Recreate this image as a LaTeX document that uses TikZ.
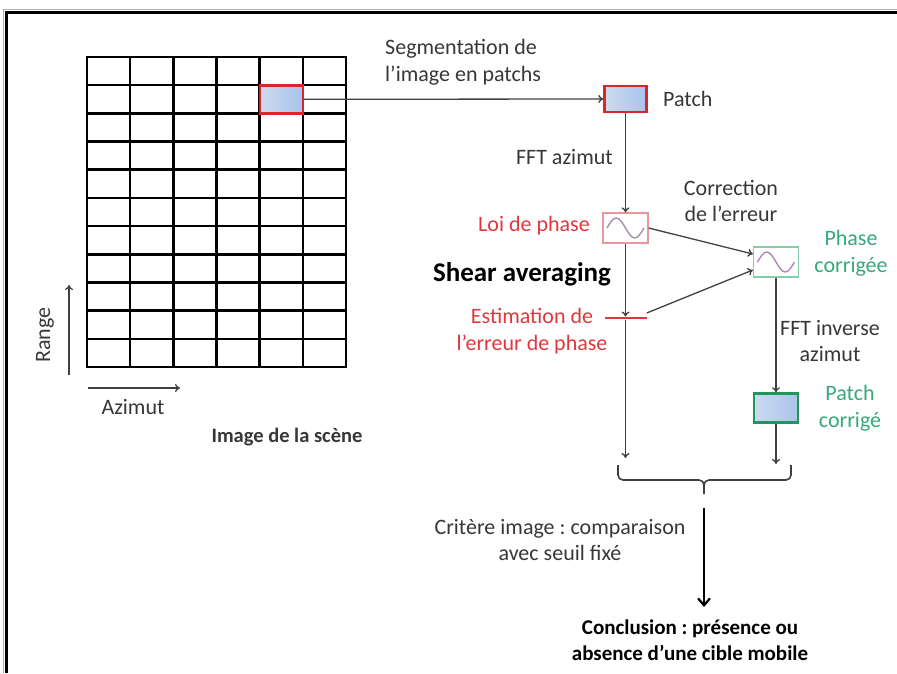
\documentclass[tikz,border=0pt]{standalone}
\usepackage{fontspec}
\setmainfont{Carlito}
\usepackage{xcolor}
\usepackage{tikz}
\usetikzlibrary{arrows.meta, calc, positioning}
\definecolor{lineGray}{RGB}{64,64,64}
\definecolor{textGray}{RGB}{55,55,55}
\definecolor{errRed}{RGB}{222,56,62}
\definecolor{boxRed}{RGB}{214,40,40}
\definecolor{pinkEdge}{RGB}{232,150,160}
\definecolor{okGreen}{RGB}{52,170,122}
\definecolor{mintEdge}{RGB}{130,205,170}
\definecolor{boxGreen}{RGB}{34,150,90}
\definecolor{waveCol}{RGB}{170,140,175}
\definecolor{patchL}{RGB}{205,218,240}
\definecolor{patchR}{RGB}{170,195,235}
\frenchspacing

\begin{document}
\begin{tikzpicture}[x=1pt, y=-1pt, every node/.style={inner sep=0pt, text=textGray},
	lbl/.style={font=\fontsize{22}{26.5}\selectfont, align=center},
	conn/.style={draw=lineGray, line width=1.3pt, -{To[length=5pt, width=8pt]}},
	patchbox/.style={draw=#1, line width=2.4pt, left color=patchL, right color=patchR, minimum width=42pt, minimum height=26pt},
	wavebox/.style={draw=#1, line width=1.3pt, fill=white, minimum width=45pt, minimum height=30pt,
		path picture={\draw[waveCol, line width=1.4pt] ([xshift=4pt]path picture bounding box.west) sin ++(9.25,-10) cos ++(9.25,10) sin ++(9.25,10) cos ++(9.25,-10);}}]
	\useasboundingbox (0,0) rectangle (897,673);
	\draw[gray!60, line width=0.8pt] (3,673) |- (897,9);
	\draw[line width=3pt] (6,673) |- (897,12);

	% scene grid
	\foreach \i in {0,...,6}
		\draw[line width=2.6pt, line cap=rect] ({87+43.17*\i},57) -- ({87+43.17*\i},367);
	\foreach \j in {0,...,11}
		\draw[line width=2.6pt, line cap=rect] (87,{57+28.18*\j}) -- (346,{57+28.18*\j});
	\node[patchbox=boxRed, minimum width=43pt, minimum height=28pt] (cell) at (281.3,99.3) {};

	\draw[draw=lineGray, line width=1.3pt, -{To[length=5pt, width=8pt]}] (69,375) -- (69,285);
	\draw[draw=lineGray, line width=1.3pt, -{To[length=5pt, width=8pt]}] (88,388) -- (180,388);
	\node[lbl, rotate=90] (range) at (45,335) {Range};
	\node[lbl] (azimut) at (133,407) {Azimut};
	\node[font=\fontsize{20.5}{24}\selectfont\bfseries] (scene) at (287,437) {Image de la scène};

	% processing chain
	\node[patchbox=boxRed] (patch) at (625.5,99) {};
	\node[lbl, anchor=west] (patchTxt) at (663,99) {Patch};
	\node[lbl, align=left, anchor=west] (segTxt) at (385,62) {Segmentation de\\l’image en patchs};
	\draw[conn] (cell.east) -- (patch.west);

	\node[wavebox=pinkEdge] (loi) at (625.5,228) {};
	\node[lbl, anchor=east, text=errRed] (loiTxt) at (590,226) {Loi de phase};
	\node[lbl, anchor=east] (fftTxt) at (613,157) {FFT azimut};
	\draw[conn] (patch.south) -- (loi.north);

	\node[wavebox=mintEdge] (corr) at (776,262) {};
	\node[lbl, text=okGreen] (corrTxt) at (851,253) {Phase\\corrigée};
	\node[lbl] (errTxt) at (731,201) {Correction\\de l’erreur};
	\draw[conn] (loi.east) -- ([yshift=8pt]corr.west);

	\node[font=\fontsize{27}{32}\selectfont\bfseries, text=black] (shear) at (522,274) {Shear averaging};

	\node[fill=errRed, minimum width=42pt, minimum height=2.6pt] (bar) at (625.5,318) {};
	\node[lbl, text=errRed] (estTxt) at (532,331) {Estimation de\\l’erreur de phase};
	\draw[conn] (loi.south) -- (bar.north);
	\draw[conn] ([yshift=5pt]bar.east) -- ([yshift=-8pt]corr.west);

	\node[patchbox=boxGreen, minimum width=44pt, minimum height=29pt] (pcorr) at (776,408) {};
	\node[lbl, text=okGreen] (pcorrTxt) at (850,408) {Patch\\corrigé};
	\node[lbl] (invTxt) at (830,341) {FFT inverse\\azimut};
	\draw[conn] (corr.south) -- (pcorr.north);

	% merge
	\coordinate (lArr) at (625.5,458);
	\coordinate (rArr) at (776,464);
	\draw[conn] (bar.south) -- (lArr);
	\draw[conn] (pcorr.south) -- (rArr);
	\draw[lineGray, line width=1.6pt, rounded corners=5pt] (618,465) |- (704,480) -- (704,494);
	\draw[lineGray, line width=1.6pt, rounded corners=5pt] (791,465) |- (704,480) -- (704,494);

	\node[lbl] (critTxt) at (560,540) {Critère image : comparaison\\avec seuil fixé};
	\coordinate (bigTop) at (704,508);
	\coordinate (bigEnd) at (704,607);
	\draw[black, line width=2.2pt, -{Straight Barb[length=7pt, width=12pt]}] (bigTop) -- (bigEnd);
	\node[font=\fontsize{21}{26.5}\selectfont\bfseries, align=center, text=black] (concl) at (690,640) {Conclusion : présence ou\\absence d’une cible mobile};
\end{tikzpicture}
\end{document}
